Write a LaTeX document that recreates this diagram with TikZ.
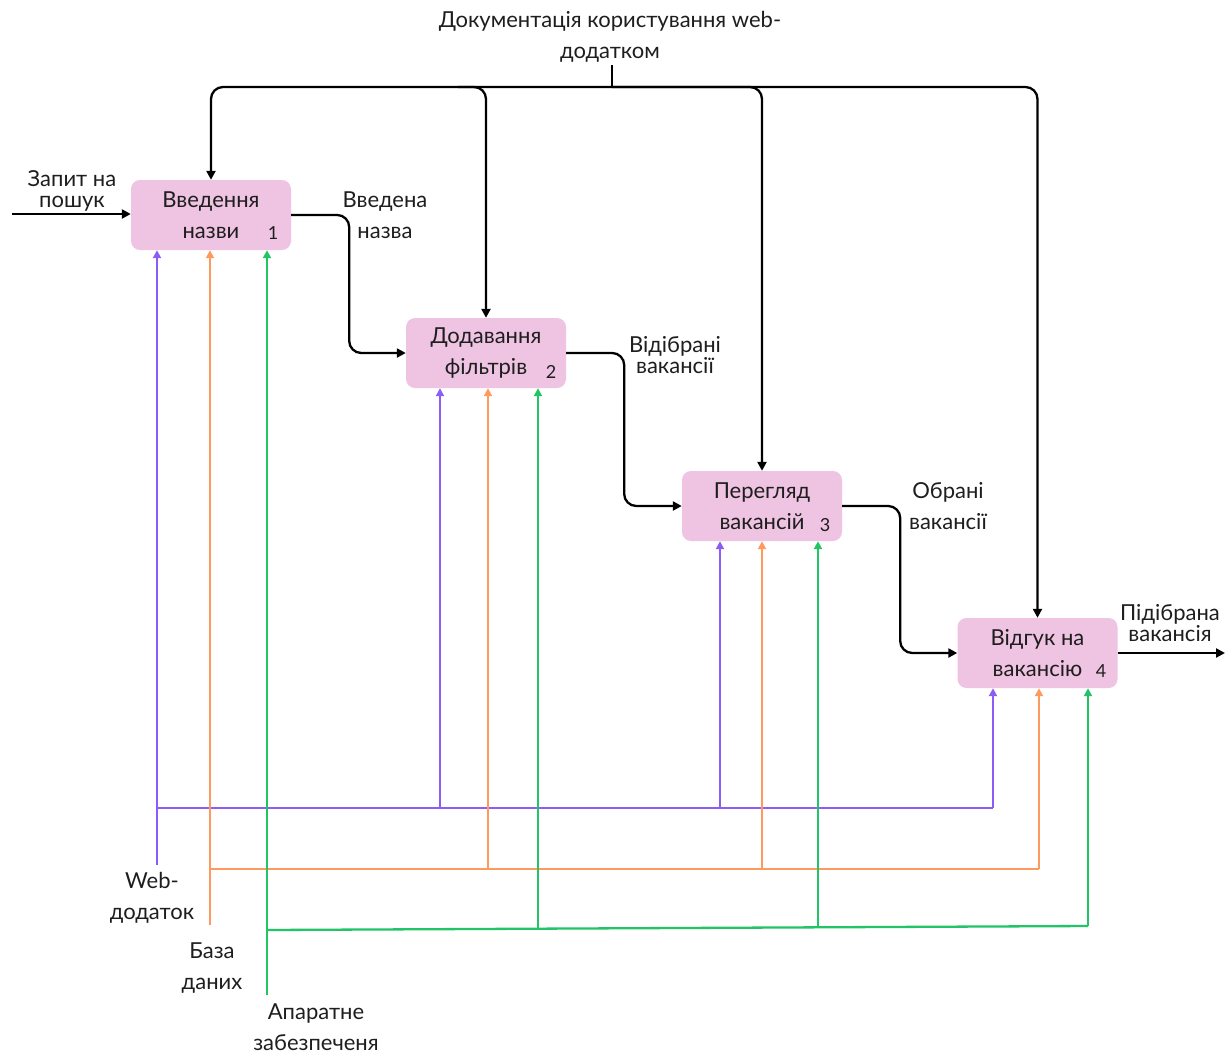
\documentclass[tikz,border=0pt]{standalone}
\usepackage{fontspec}
\setmainfont{Lato}
\usetikzlibrary{arrows.meta}
\definecolor{boxpink}{HTML}{EFC3E2}
\definecolor{mpurple}{HTML}{8B5CF6}
\definecolor{morange}{HTML}{FF9A5E}
\definecolor{mgreen}{HTML}{22C466}
\definecolor{txt}{HTML}{1E1E1E}
\tikzset{
  procbox/.style={fill=boxpink, draw=none, rounded corners=9pt, minimum width=160pt, minimum height=70pt,
    align=center, inner sep=0pt, text=txt, font=\fontsize{22}{31}\selectfont},
  numlbl/.style={text=txt, font=\fontsize{18}{20}\selectfont, inner sep=0pt},
  lbl/.style={text=txt, align=center, inner sep=0pt, font=\fontsize{22}{31}\selectfont},
  lbltight/.style={text=txt, align=center, inner sep=0pt, font=\fontsize{22}{21.5}\selectfont},
  flow/.style={draw=black, line width=2.3pt, rounded corners=12pt, -{Triangle[length=9pt,width=9pt]}},
  plainline/.style={draw=black, line width=2.3pt},
  mech/.style={line width=2.3pt, -{Triangle[length=8pt,width=8pt]}},
  bus/.style={line width=2.3pt}
}
\begin{document}
\begin{tikzpicture}[x=1pt,y=-1pt]
\useasboundingbox (0,0) rectangle (1232,1053);

% boxes
\node[procbox] (b1) at (211,215) {Введення\\назви};
\node[procbox] (b2) at (486,353) {Додавання\\фільтрів};
\node[procbox] (b3) at (762,506) {Перегляд\\вакансій};
\node[procbox] (b4) at (1037.5,653) {Відгук на\\вакансію};
\node[numlbl] (n1) at (273,233) {1};
\node[numlbl] (n2) at (551,372) {2};
\node[numlbl] (n3) at (825,525) {3};
\node[numlbl] (n4) at (1101,671) {4};

% labels
\node[lbl] (doc) at (610,37) {Документація користування web-\\додатком};
\node[lbltight] (inlbl) at (72,191) {Запит на\\пошук};
\node[lbl] (l12) at (385,215) {Введена\\назва};
\node[lbltight] (l23) at (675,355) {Відібрані\\вакансії};
\node[lbl] (l34) at (948,506) {Обрані\\вакансії};
\node[lbltight] (lout) at (1170,623) {Підібрана\\вакансія};
\node[lbl] (mweb) at (152,898) {Web-\\додаток};
\node[lbl] (mdb) at (212,968) {База\\даних};
\node[lbl] (mhw) at (316,1027) {Апаратне\\забезпеченя};

% control
\coordinate (stem) at (612,65);
\coordinate (hub) at (612,87);
\coordinate (split) at (458,87);
\draw[plainline] (stem) -- (hub);
\draw[flow] (hub) -| (b1.north);
\draw[flow] (split) -| (b2.north);
\draw[flow] (hub) -| (b3.north);
\draw[flow] (hub) -| (b4.north);

% input / flow / output
\coordinate (in) at (12,214);
\coordinate (out) at (1225,653);
\draw[flow] (in) -- (b1.west |- in);
\draw[flow] (b1.east) -- ++(58,0) |- (b2.west);
\draw[flow] (b2.east) -- ++(58,0) |- (b3.west);
\draw[flow] (b3.east) -- ++(58,0) |- (b4.west);
\draw[flow] (b4.east) -- (out);

% mechanisms: web app (purple)
\coordinate (pw) at (157,865);
\coordinate (pbL) at (157,808);
\coordinate (pbR) at (993,808);
\draw[mech, mpurple] (pw) -- (pw |- b1.south);
\draw[bus, mpurple] (pbL) -- (pbR);
\coordinate (p2) at (440,808);
\coordinate (p3) at (720,808);
\draw[mech, mpurple] (p2) -- (p2 |- b2.south);
\draw[mech, mpurple] (p3) -- (p3 |- b3.south);
\draw[mech, mpurple] (pbR) -- (pbR |- b4.south);

% database (orange)
\coordinate (ow) at (210,925);
\coordinate (obL) at (210,869);
\coordinate (obR) at (1039,869);
\draw[mech, morange] (ow) -- (ow |- b1.south);
\draw[bus, morange] (obL) -- (obR);
\coordinate (o2) at (488,869);
\coordinate (o3) at (762,869);
\draw[mech, morange] (o2) -- (o2 |- b2.south);
\draw[mech, morange] (o3) -- (o3 |- b3.south);
\draw[mech, morange] (obR) -- (obR |- b4.south);

% hardware (green)
\coordinate (gw) at (267,995);
\coordinate (gbL) at (267,930);
\coordinate (gbR) at (1088,926);
\draw[mech, mgreen] (gw) -- (gw |- b1.south);
\draw[bus, mgreen] (gbL) -- (gbR);
\coordinate (g2) at (538,928.5);
\coordinate (g3) at (818,927.5);
\draw[mech, mgreen] (g2) -- (g2 |- b2.south);
\draw[mech, mgreen] (g3) -- (g3 |- b3.south);
\draw[mech, mgreen] (gbR) -- (gbR |- b4.south);
\end{tikzpicture}
\end{document}
